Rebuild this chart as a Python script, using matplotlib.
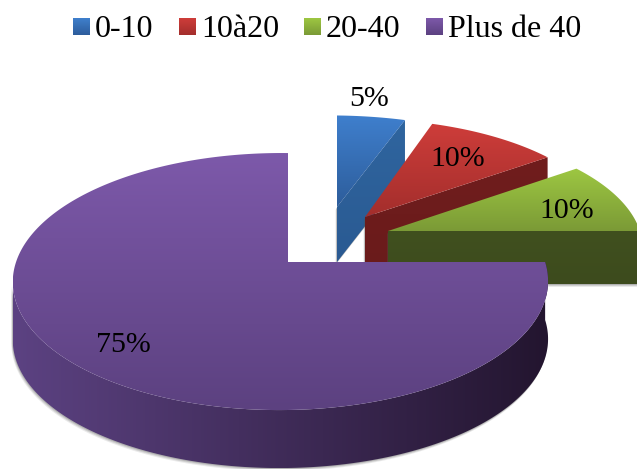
import numpy as np
import matplotlib
matplotlib.use("Agg")
import matplotlib.pyplot as plt
from matplotlib.colors import LinearSegmentedColormap
from matplotlib.patches import Polygon

# Chart data
categories = ["0-10", "10à20", "20-40", "Plus de 40"]
shares = [5, 10, 10, 75]
share_labels = ["5%", "10%", "10%", "75%"]

# Colours: top face start/end, then wall start/end
top_colors = [("#3f7fcd", "#2d5d9b"), ("#ce3d3a", "#a32e2c"), ("#9dc742", "#7b9a36"), ("#7d59aa", "#5c4180")]
wall_colors = [("#2f659f", "#2a5a92"), ("#701d1d", "#6a1b1b"), ("#40501f", "#3d4b1d"), ("#5c4282", "#23152f")]

# Exploded apex of each slice, pixels from the top left
apexes = [(337, 207), (365, 217), (388, 231), (288, 262)]
scales = [(0.95, 0.84), (0.94, 0.90), (0.97, 0.94), (0.99, 1.0)]
depths = [55, 55, 53, 58]
label_pos = [(369, 99), (458, 159), (567, 211), (123, 345)]
legend_x = [73, 179, 304, 426]

fig = plt.figure(figsize=(6.37, 4.69), dpi=100)
ax = fig.add_axes([0, 0, 1, 1])
ax.set_xlim(0, 637)
ax.set_ylim(469, 0)
ax.axis("off")


def rim(t, apex, scale):
    # perspective projection of a point on the pie rim
    w = 1 + 0.152 * np.sin(t) + 0.028 * np.cos(t)
    x = apex[0] + scale[0] * 267 * np.cos(t) / w
    y = apex[1] - scale[1] * 125.5 * np.sin(t) / w
    return np.column_stack([x, y])


def gradient_poly(points, colors, horizontal=False, zorder=2):
    cmap = LinearSegmentedColormap.from_list("g", colors)
    x0, y0 = points.min(axis=0)
    x1, y1 = points.max(axis=0)
    grad = np.linspace(0, 1, 256)
    grad = grad.reshape(1, -1) if horizontal else grad.reshape(-1, 1)
    im = ax.imshow(grad, cmap=cmap, extent=(x0, x1, y1, y0), aspect="auto", zorder=zorder)
    patch = Polygon(points, closed=True, transform=ax.transData, fc="none", ec="none")
    ax.add_patch(patch)
    im.set_clip_path(patch)


def shadow(points, zorder):
    for off, alpha in [(3, 0.12), (2, 0.18), (1, 0.25)]:
        ax.add_patch(Polygon(points + [-off * 0.5, off], closed=True, fc="#555555", ec="none",
                             alpha=alpha, zorder=zorder))


# Slices start at 12 o'clock and run clockwise
angle = np.pi / 2
z = 2
for i, share in enumerate(shares):
    end = angle - share / sum(shares) * 2 * np.pi
    apex = np.array(apexes[i], dtype=float)
    t = np.linspace(angle, end, 300)
    arc = rim(t, apex, scales[i])
    top = np.vstack([apex, arc])
    down = np.array([0, depths[i]])

    if i == 3:
        # outer wall of the big slice, from the right end round to the left extreme
        front = arc[:arc[:, 0].argmin() + 1]
        wall = np.vstack([front, (front + down)[::-1]])
        shadow(wall, z)
        gradient_poly(wall, wall_colors[i], horizontal=True, zorder=z + 0.1)
    else:
        # cut face below the clockwise edge of the slice
        wall = np.vstack([apex, arc[-1], arc[-1] + down, apex + down])
        shadow(wall, z)
        gradient_poly(wall, wall_colors[i], zorder=z + 0.1)

    gradient_poly(top, top_colors[i], zorder=z + 0.2)
    angle = end
    z += 1

# Percent labels
for label, (x, y) in zip(share_labels, label_pos):
    ax.text(x, y, label, family="Liberation Serif", fontsize=21.5, color="black",
            ha="center", va="center", zorder=10)

# Legend along the top
for i, name in enumerate(categories):
    square = np.array([[legend_x[i], 18], [legend_x[i] + 17, 18],
                       [legend_x[i] + 17, 35], [legend_x[i], 35]], dtype=float)
    gradient_poly(square, top_colors[i], zorder=10)
    ax.text(legend_x[i] + 22, 37, name, family="Liberation Serif", fontsize=23, color="black",
            ha="left", va="baseline", zorder=10)

ax.set_xlim(0, 637)
ax.set_ylim(469, 0)
fig.savefig("out.png", dpi=100)
